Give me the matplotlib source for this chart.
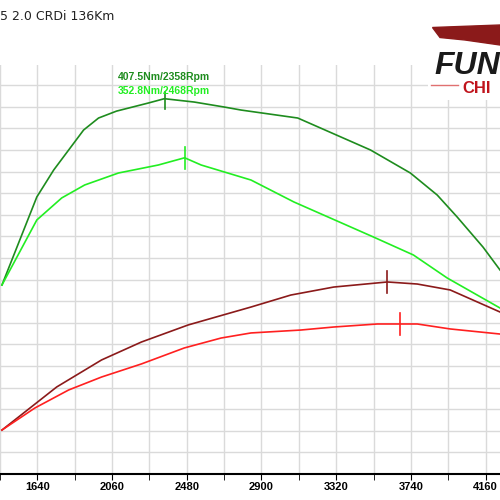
import numpy as np
import matplotlib.pyplot as plt

# curves: rpm, torque (Nm) / power (hp)
tq_tuned_rpm = [1441, 1637, 1732, 1900, 1984, 2085, 2264, 2354, 2522, 2690, 2785, 3104, 3513, 3737, 3888, 4000, 4146, 4241]
tq_tuned = [235, 316.5, 341.5, 378.5, 389.6, 396, 403.5, 407.5, 404.4, 399.8, 397, 389.6, 360, 338.7, 318.3, 298, 270, 248.9]

tq_stock_rpm = [1441, 1637, 1777, 1906, 2096, 2320, 2468, 2561, 2841, 3082, 3530, 3754, 3944, 4241]
tq_stock = [235, 295.2, 315.6, 327.6, 338.7, 346.1, 352.8, 346.1, 332.2, 311.9, 279.4, 262.8, 241.5, 213.7]

pw_tuned_rpm = [1441, 1749, 2001, 2225, 2488, 2841, 3065, 3306, 3608, 3776, 3961, 4241]
pw_tuned = [40.7, 80.6, 105.6, 122.2, 138, 154.6, 165.7, 173.1, 177.8, 175.9, 170.4, 150]

pw_stock_rpm = [1441, 1626, 1816, 2001, 2225, 2466, 2673, 2841, 3121, 3306, 3552, 3681, 3776, 3961, 4241]
pw_stock = [40.7, 61.1, 77.8, 89.8, 101.9, 116.7, 125.9, 130.6, 133.3, 136.1, 138.9, 138.9, 138.9, 134.3, 129.6]

peak_tuned = (2358, 407.5)
peak_stock = (2468, 352.8)
pw_peak_rpm = [3608, 3681]

xticks = [1640, 2060, 2480, 2900, 3320, 3740, 4160]

fig = plt.figure(figsize=(5, 5), dpi=100)
ax = fig.add_axes([0, 0.052, 1, 0.818])
ax.set_xlim(1441, 4241)
ax.set_ylim(60, 438.7)
ax2 = ax.twinx()
ax2.set_ylim(0, 378.7)

ax.set_xticks(np.arange(1430, 4300, 210), minor=True)
ax.set_xticks(xticks)
ax.set_xticklabels([str(t) for t in xticks], fontsize=8, fontweight='bold', family='Liberation Sans')
ax.set_yticks(np.arange(60, 440, 20))
ax.set_yticklabels([])
ax.tick_params(axis='y', length=0)
ax.tick_params(axis='x', which='both', length=4, direction='out', pad=2)
ax.grid(True, which='both', color='#dadada', lw=1)
ax2.set_yticks([])
for a in (ax, ax2):
    for s in ['top', 'left', 'right']:
        a.spines[s].set_visible(False)
ax.spines['bottom'].set_linewidth(1.5)
ax2.spines['bottom'].set_visible(False)

ax.plot(tq_tuned_rpm, tq_tuned, color='#1e8c1e', lw=1.2)
ax.plot(tq_stock_rpm, tq_stock, color='#22ee22', lw=1.2)
ax2.plot(pw_tuned_rpm, pw_tuned, color='#8b1a1a', lw=1.2)
ax2.plot(pw_stock_rpm, pw_stock, color='#ff2020', lw=1.2)

ax.plot([peak_tuned[0]] * 2, [peak_tuned[1] - 10, peak_tuned[1] + 6], color='#1e8c1e', lw=1.2)
ax.plot([peak_stock[0]] * 2, [peak_stock[1] - 10, peak_stock[1] + 10], color='#22ee22', lw=1.2)
ax2.plot([pw_peak_rpm[0]] * 2, [max(pw_tuned) - 10, max(pw_tuned) + 10], color='#8b1a1a', lw=1.2)
ax2.plot([pw_peak_rpm[1]] * 2, [max(pw_stock) - 10, max(pw_stock) + 10], color='#ff2020', lw=1.2)

fig.text(0.236, 0.846, '407.5Nm/2358Rpm', color='#1e8c1e', fontsize=7.5, fontweight='bold',
         family='Liberation Sans', va='center')
fig.text(0.236, 0.818, '352.8Nm/2468Rpm', color='#22ee22', fontsize=7.5, fontweight='bold',
         family='Liberation Sans', va='center')

fig.text(0.0, 0.966, '5 2.0 CRDi 136Km', fontsize=9, color='#222222', va='center', family='DejaVu Sans')

# logo on a white patch
fig.patches.append(plt.Rectangle((0.855, 0.8), 0.15, 0.16, transform=fig.transFigure,
                                 facecolor='white', edgecolor='none', zorder=5))
fig.patches.append(plt.Polygon([[0.865, 0.945], [1.0, 0.95], [1.0, 0.91], [0.93, 0.92], [0.88, 0.925]],
                               closed=True, transform=fig.transFigure, color='#8b1a1a', zorder=6))
fig.text(0.868, 0.852, 'FUN', fontsize=23, fontweight='bold', style='italic', color='#1a1a1a',
         family='Liberation Sans', zorder=7)
fig.text(0.925, 0.814, 'CHI', fontsize=12, fontweight='bold', color='#c0141c',
         family='Liberation Sans', zorder=7)
fig.lines.append(plt.Line2D([0.862, 0.915], [0.83, 0.83], transform=fig.transFigure,
                            color='#e07070', lw=1, zorder=6))

fig.savefig('out.png', dpi=100)
